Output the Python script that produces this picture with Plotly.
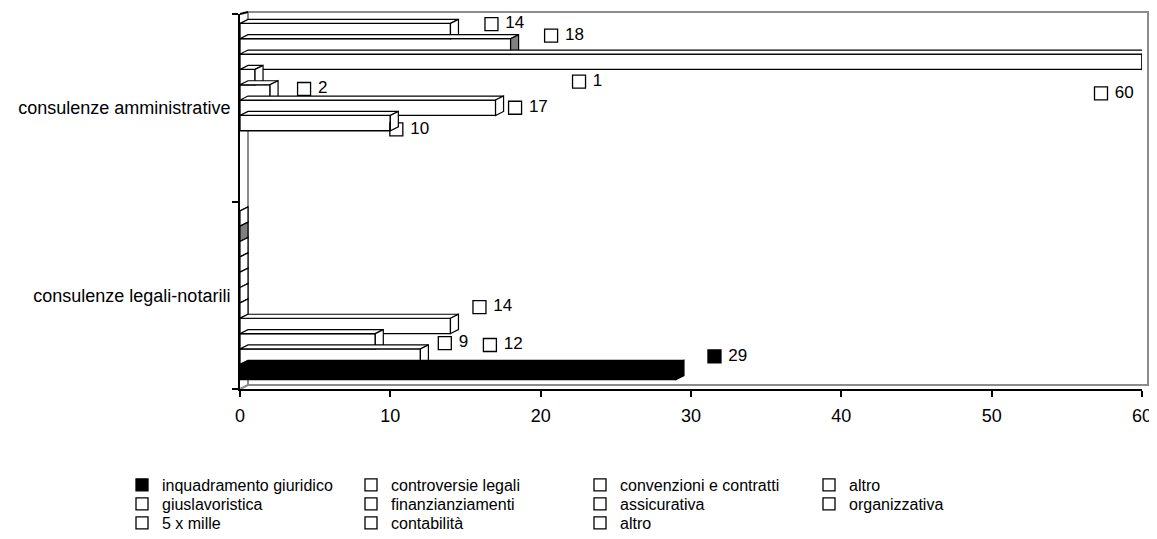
import plotly.graph_objects as go

# ---------------- data ----------------
categories = ["consulenze legali-notarili", "consulenze amministrative"]
series_names = ["inquadramento giuridico", "controversie legali", "convenzioni e contratti", "altro",
                "giuslavoristica", "finanzianziamenti", "assicurativa", "organizzativa",
                "5 x mille", "contabilità", "altro"]
legali_values = [29, 12, 9, 14, 0, 0, 0, 0, 0, 0, 0]
amministrative_values = [None, None, None, None, 10, 17, 2, 1, 60, 18, 14]
x_ticks = [0, 10, 20, 30, 40, 50, 60]

# ---------------- style ----------------
FONT = "Liberation Sans, Arial, sans-serif"
W, H = 1149, 523          # page body has an 8px margin
ML, MR, MT, MB = 232, 15, 6, 142
PW, PH = W - ML - MR, H - MT - MB
X_MAX = 60
PX_X = PW / X_MAX          # pixels per x unit
PX_Y = PH / 2.0            # pixels per category unit
BARGAP = 0.1
N = len(series_names)
SLOT = (1 - BARGAP) / N
DEPTH_X = 8 / PX_X         # 3d depth offset
DEPTH_Y = 4 / PX_Y

front_fill = ["#000000"] + ["#ffffff"] * (N - 1)
side_fill = list(front_fill)
side_fill[9] = "#808080"
# data label offsets (pixels, screen space) relative to bar end / bar centre
label_shift_px = [(38.5, -15.5), (69.5, -11.6), (69.5, 1.8), (29, -18.8),
                  (6, 6.3), (19.5, 0), (34, -3.4), (324, 4.5), (-41, 31.7),
                  (40.5, -10.7), (41, -7)]
# legend rows (which legend each series belongs to) and their vertical centres (px)
legend_of_series = ["legend"] * 4 + ["legend2"] * 4 + ["legend3"] * 3
legend_row_y_px = {"legend": 477, "legend2": 496, "legend3": 515}

fig = go.Figure()
cat_pos = [0, 1]

for i, name in enumerate(series_names):
    vals = [legali_values[i], amministrative_values[i]]
    fig.add_trace(go.Bar(
        orientation="h", x=vals, y=cat_pos, name=name,
        legend=legend_of_series[i],
        marker=dict(color=front_fill[i], line=dict(color="#000000", width=1.3)),
        hoverinfo="x+name",
    ))

# 3d faces (top and end) for each bar, drawn back to front
shapes = []
for c, values in enumerate([legali_values, amministrative_values]):
    for i in reversed(range(N)):
        v = values[i]
        if v is None:
            continue
        yb = c - (1 - BARGAP) / 2 + i * SLOT
        yt = yb + SLOT
        top = f"M 0,{yt} L {v},{yt} L {v + DEPTH_X},{yt + DEPTH_Y} L {DEPTH_X},{yt + DEPTH_Y} Z"
        end = f"M {v},{yb} L {v},{yt} L {v + DEPTH_X},{yt + DEPTH_Y} L {v + DEPTH_X},{yb + DEPTH_Y} Z"
        shapes.append(dict(type="path", path=top, xref="x", yref="y", layer="above",
                           fillcolor=front_fill[i], line=dict(color="#000000", width=1.2)))
        shapes.append(dict(type="path", path=end, xref="x", yref="y", layer="above",
                           fillcolor=side_fill[i], line=dict(color="#000000", width=1.2)))

# data labels with legend keys
for c, values in enumerate([legali_values, amministrative_values]):
    for i in range(N):
        v = values[i]
        if v is None or v == 0:
            continue
        dx, dy = label_shift_px[i]
        yc = c - (1 - BARGAP) / 2 + (i + 0.5) * SLOT
        fig.add_trace(go.Scatter(
            x=[v + dx / PX_X], y=[yc - dy / PX_Y], mode="markers+text",
            text=[" " + str(v)], textposition="middle right",
            textfont=dict(family=FONT, size=17, color="#000000"),
            marker=dict(symbol="square", size=13, color=front_fill[i],
                        line=dict(color="#000000", width=1.3)),
            showlegend=False, hoverinfo="skip", cliponaxis=False,
        ))

# back walls (grey) in paper coords
gx0 = 8 / PW
gx1 = (PW + 6) / PW
gy0 = 4 / PH
gy1 = (PH + 2) / PH
grey = "#8c8c8c"
shapes += [
    dict(type="rect", xref="paper", yref="paper", x0=gx0, x1=gx1, y0=gy0, y1=gy1,
         line=dict(color=grey, width=2), layer="below"),
    dict(type="line", xref="paper", yref="paper", x0=0, y0=0, x1=gx0, y1=gy0,
         line=dict(color=grey, width=2), layer="below"),
    dict(type="line", xref="paper", yref="paper", x0=0, y0=1, x1=gx0, y1=gy1,
         line=dict(color="#000000", width=2), layer="above"),
]

legend_common = dict(orientation="h", x=(114 - ML) / PW, xanchor="left", yanchor="middle",
                     entrywidth=184, entrywidthmode="pixels", traceorder="normal",
                     font=dict(family=FONT, size=16, color="#000000"),
                     bgcolor="rgba(0,0,0,0)", itemwidth=30)
legends = {k: dict(legend_common, y=(H - MB - ypx) / PH) for k, ypx in legend_row_y_px.items()}

fig.update_layout(
    width=W, height=H,
    margin=dict(l=ML, r=MR, t=MT, b=MB, autoexpand=False),
    paper_bgcolor="#ffffff", plot_bgcolor="#ffffff",
    font=dict(family=FONT, size=18, color="#000000"),
    barmode="group", bargap=BARGAP, bargroupgap=0,
    shapes=shapes,
    showlegend=True,
    legend=legends["legend"], legend2=legends["legend2"], legend3=legends["legend3"],
    xaxis=dict(range=[0, X_MAX], tickvals=x_ticks, ticks="outside", ticklen=6,
               tickwidth=1.5, tickcolor="#000000", showline=True, linecolor="#000000",
               linewidth=2, showgrid=False, zeroline=False, ticklabelstandoff=3,
               tickfont=dict(family=FONT, size=18)),
    yaxis=dict(range=[-0.5, 1.5], tickvals=cat_pos, ticktext=categories, ticks="",
               showline=True, linecolor="#000000", linewidth=2, showgrid=False,
               zeroline=False, ticklabelstandoff=4,
               minor=dict(tickvals=[-0.5, 0.5, 1.5], ticks="outside", ticklen=6,
                          tickcolor="#000000", tickwidth=1.5),
               tickfont=dict(family=FONT, size=18)),
)

fig.write_html("out.html")
